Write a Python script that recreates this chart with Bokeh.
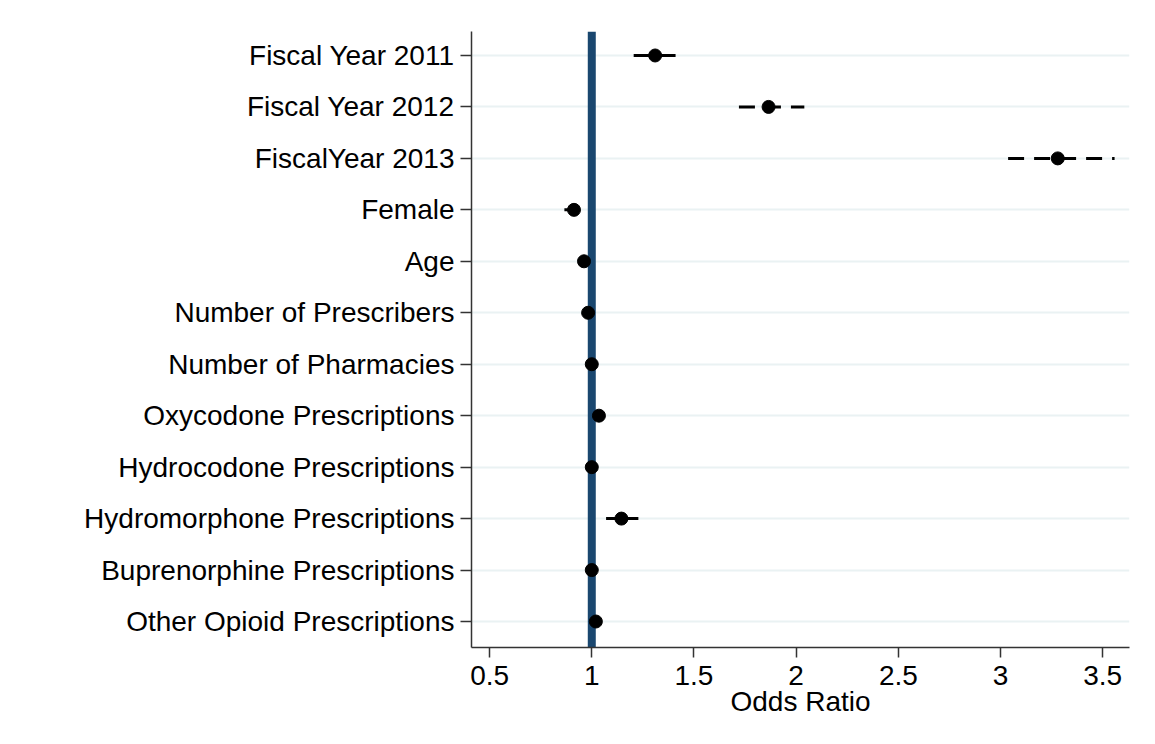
from bokeh.plotting import figure
from bokeh.models import ColumnDataSource, FixedTicker, NumeralTickFormatter, Span, CDSView, IndexFilter, Range1d
from bokeh.embed import file_html
from bokeh.resources import INLINE

# ---- data ----
labels = [
    "Fiscal Year 2011", "Fiscal Year 2012", "FiscalYear 2013", "Female", "Age",
    "Number of Prescribers", "Number of Pharmacies", "Oxycodone Prescriptions",
    "Hydrocodone Prescriptions", "Hydromorphone Prescriptions",
    "Buprenorphine Prescriptions", "Other Opioid Prescriptions",
]
odds_ratio = [1.31, 1.865, 3.28, 0.913, 0.962, 0.982, 1.0, 1.035, 1.0, 1.145, 1.0, 1.02]
ci_low = [1.205, 1.72, 3.037, 0.866, 0.95, 0.97, 0.99, 1.02, 0.99, 1.07, 0.99, 1.0]
ci_high = [1.41, 2.04, 3.558, 0.93, 0.975, 0.995, 1.01, 1.05, 1.01, 1.228, 1.01, 1.04]
dashed_rows = [1, 2]
x_ticks = [0.5, 1, 1.5, 2, 2.5, 3, 3.5]
reference_value = 1.0

n = len(labels)
ypos = [n - i for i in range(n)]
src = ColumnDataSource(dict(y=ypos, orr=odds_ratio, lo=ci_low, hi=ci_high))

FONT = "Liberation Sans"
FS = "28px"

p = figure(width=1147, height=728, output_backend="svg", toolbar_location=None,
           x_range=Range1d(0.4115, 3.631), y_range=Range1d(0.495, 12.466),
           min_border_left=471, min_border_right=18, min_border_top=31, min_border_bottom=81)
p.outline_line_color = None
p.background_fill_color = "white"
p.border_fill_color = "white"

p.add_layout(Span(location=reference_value, dimension="height", line_color="#1a476f",
                  line_width=8, level="underlay"))

solid_rows = [i for i in range(n) if i not in dashed_rows]
p.segment(x0="lo", y0="y", x1="hi", y1="y", source=src, view=CDSView(filter=IndexFilter(solid_rows)),
          line_color="black", line_width=3)
p.segment(x0="lo", y0="y", x1="hi", y1="y", source=src, view=CDSView(filter=IndexFilter(dashed_rows)),
          line_color="black", line_width=3, line_dash="16 10")

p.scatter(x="orr", y="y", source=src, size=13, color="black")

# grid
p.xgrid.grid_line_color = None
p.ygrid.grid_line_color = "#eaf2f3"
p.ygrid.grid_line_width = 2

# y axis
p.yaxis.ticker = FixedTicker(ticks=ypos)
p.yaxis.major_label_overrides = {y: l for y, l in zip(ypos, labels)}
p.yaxis.major_label_text_font = FONT
p.yaxis.major_label_text_font_size = FS
p.yaxis.major_label_text_color = "black"
p.yaxis.major_tick_out = 11
p.yaxis.major_tick_in = 0
p.yaxis.minor_tick_line_color = None
p.yaxis.major_label_standoff = 6
p.yaxis.axis_line_color = "#333333"
p.yaxis.major_tick_line_color = "#333333"
p.yaxis.axis_line_width = 1.5
p.yaxis.major_tick_line_width = 1.5

# x axis
p.xaxis.ticker = FixedTicker(ticks=x_ticks)
p.xaxis.formatter = NumeralTickFormatter(format="0.[0]")
p.xaxis.major_label_text_font = FONT
p.xaxis.major_label_text_font_size = FS
p.xaxis.major_label_text_color = "black"
p.xaxis.major_tick_out = 10
p.xaxis.major_tick_in = 0
p.xaxis.minor_tick_line_color = None
p.xaxis.major_label_standoff = 8
p.xaxis.axis_line_color = "#333333"
p.xaxis.major_tick_line_color = "#333333"
p.xaxis.axis_line_width = 1.5
p.xaxis.major_tick_line_width = 1.5
p.xaxis.axis_label = "Odds Ratio"
p.xaxis.axis_label_text_font = FONT
p.xaxis.axis_label_text_font_size = FS
p.xaxis.axis_label_text_font_style = "normal"
p.xaxis.axis_label_text_color = "black"
p.xaxis.axis_label_standoff = -2

open("out.html", "w").write(file_html(p, INLINE))
